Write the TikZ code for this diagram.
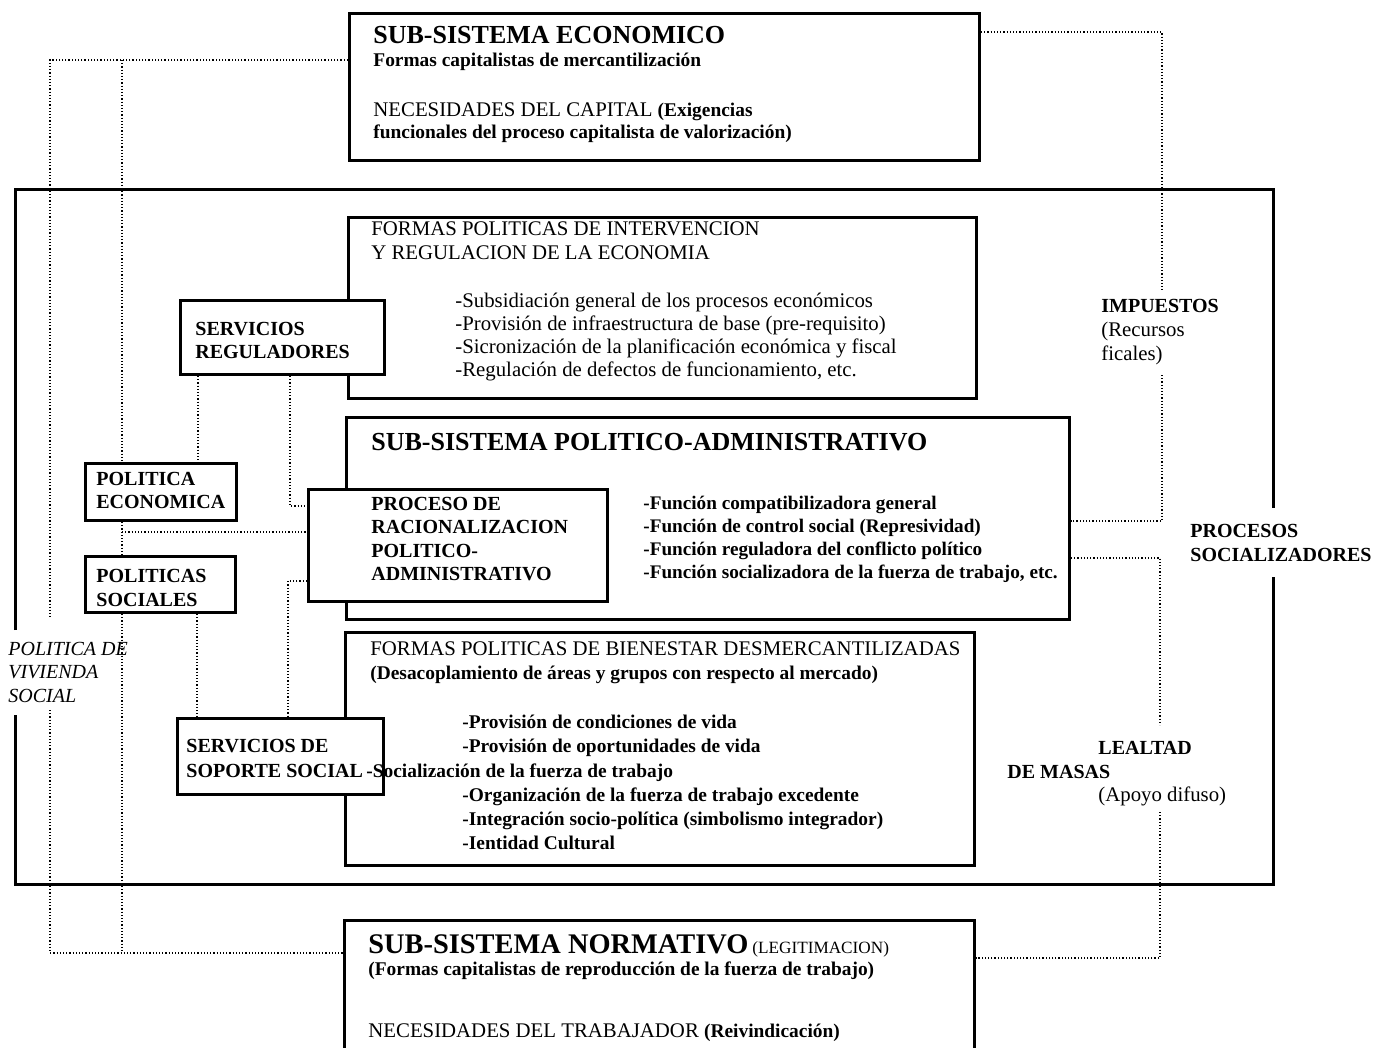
\documentclass[tikz,border=0pt]{standalone}
\usepackage{fontspec}
\setmainfont{Liberation Serif}
\tikzset{
  panel/.style={draw=black, line width=1.5pt, fill=white, inner sep=0pt, anchor=north west},
  box-size/.style 2 args={minimum width=#1*0.5pt, minimum height=#2*0.5pt},
  txt/.style={anchor=base west, inner sep=0pt, font=\fontsize{10.4}{12}\selectfont},
  txt-bold/.style={txt, font=\fontsize{9.7}{12}\selectfont\bfseries},
  txt-caps/.style={txt, font=\fontsize{10}{12}\selectfont\bfseries},
  txt-ital/.style={txt, font=\fontsize{10}{12}\selectfont\itshape},
  txt-title/.style={txt, font=\fontsize{13}{15}\selectfont\bfseries},
  link/.style={densely dotted, line width=0.6pt},
  frame-line/.style={line width=1.5pt, line join=miter}
}

\begin{document}
\begin{tikzpicture}[x=0.5pt, y=-0.5pt]
  \fill[white] (0,0) rectangle (1380,1048);
  \useasboundingbox (0,0) rectangle (1380,1048);

  % --- Outer frame (open where the side labels sit) ---
  \draw[frame-line] (15,630) -- (15,190) -- (1273,190) -- (1273,508);
  \draw[frame-line] (1273,577) -- (1273,884) -- (15,884) -- (15,715);

  % --- Main panels ---
  \node[panel, box-size={630}{147}] (eco) at (348,12) {};
  \node[panel, box-size={628}{181}] (interv) at (347,216) {};
  \node[panel, box-size={723}{202}] (polit) at (345,416) {};
  \node[panel, box-size={629}{233}] (bienestar) at (344,631) {};
  \node[panel, box-size={630}{150}] (norm) at (343,919) {};

  % --- Small boxes (drawn over the panels) ---
  \node[panel, box-size={204}{74}] (servreg) at (179,299) {};
  \node[panel, box-size={299}{112}] (proc) at (307,488) {};
  \node[panel, box-size={206}{76}] (soporte) at (176,717) {};
  \node[panel, box-size={151}{57}] (poleco) at (84,462) {};
  \node[panel, box-size={150}{56}] (polsoc) at (84,555) {};

  % --- Sub-sistema economico ---
  \node[txt-title] (eco-t) at (373,44) {SUB-SISTEMA ECONOMICO};
  \node[txt-bold] (eco-1) at (373,67) {Formas capitalistas de mercantilización};
  \node[txt] (eco-2) at (373,117) {NECESIDADES DEL CAPITAL {\fontsize{9.7}{12}\selectfont\bfseries(Exigencias}};
  \node[txt-bold] (eco-3) at (373,139) {funcionales del proceso capitalista de valorización)};

  % --- Intervencion y regulacion ---
  \node[txt] (interv-t1) at (371,235) {FORMAS POLITICAS DE INTERVENCION};
  \node[txt] (interv-t2) at (371,259) {Y REGULACION DE LA ECONOMIA};
  \foreach \bullettext [count=\i] in {
      -Subsidiación general de los procesos económicos,
      -Provisión de infraestructura de base (pre-requisito),
      -Sicronización de la planificación económica y fiscal,
      {-Regulación de defectos de funcionamiento, etc.}}
    \node[txt] (interv-\i) at (455,{307+23*(\i-1)}) {\bullettext};

  % --- Sub-sistema politico-administrativo ---
  \node[txt-title] (polit-t) at (371,450) {SUB-SISTEMA POLITICO-ADMINISTRATIVO};
  \foreach \bullettext [count=\i] in {
      -Función compatibilizadora general,
      -Función de control social (Represividad),
      -Función reguladora del conflicto político,
      {-Función socializadora de la fuerza de trabajo, etc.}}
    \node[txt-bold, font=\fontsize{9.6}{12}\selectfont\bfseries] (polit-\i) at (643,{509+23*(\i-1)}) {\bullettext};

  % --- Proceso de racionalizacion ---
  \foreach \bullettext [count=\i] in {PROCESO DE, RACIONALIZACION, POLITICO-, ADMINISTRATIVO}
    \node[txt-caps] (proc-\i) at (371,{510+23.6*(\i-1)}) {\bullettext};

  % --- Bienestar desmercantilizado ---
  \node[txt] (bien-t1) at (370,655) {FORMAS POLITICAS DE BIENESTAR DESMERCANTILIZADAS};
  \node[txt-bold] (bien-t2) at (370,679) {(Desacoplamiento de áreas y grupos con respecto al mercado)};
  \node[txt-bold] (bien-1) at (462,728) {-Provisión de condiciones de vida};
  \node[txt-bold] (bien-2) at (462,752) {-Provisión de oportunidades de vida};
  \node[txt-bold] (bien-3) at (366,777) {-Socialización de la fuerza de trabajo};
  \node[txt-bold] (bien-4) at (462,801) {-Organización de la fuerza de trabajo excedente};
  \node[txt-bold] (bien-5) at (462,825) {-Integración socio-política (simbolismo integrador)};
  \node[txt-bold] (bien-6) at (462,849) {-Ientidad Cultural};

  % --- Sub-sistema normativo ---
  \node[txt, font=\fontsize{14.2}{16}\selectfont\bfseries] (norm-t) at (368,953)
    {SUB-SISTEMA NORMATIVO\hspace{2pt}{\fontsize{8.6}{10}\selectfont\mdseries (LEGITIMACION)}};
  \node[txt-bold] (norm-1) at (368,975) {(Formas capitalistas de reproducción de la fuerza de trabajo)};
  \node[txt] (norm-2) at (368,1037) {NECESIDADES DEL TRABAJADOR {\fontsize{9.7}{12}\selectfont\bfseries(Reivindicación)}};

  % --- Small box labels ---
  \node[txt-caps] (servreg-1) at (195,335) {SERVICIOS};
  \node[txt-caps] (servreg-2) at (195,358) {REGULADORES};
  \node[txt-caps] (poleco-1) at (96,485) {POLITICA};
  \node[txt-caps] (poleco-2) at (96,508) {ECONOMICA};
  \node[txt-caps] (polsoc-1) at (96,582) {POLITICAS};
  \node[txt-caps] (polsoc-2) at (96,606) {SOCIALES};
  \node[txt-caps] (soporte-1) at (186,752) {SERVICIOS DE};
  \node[txt-caps] (soporte-2) at (186,777) {SOPORTE SOCIAL};

  % --- Side labels ---
  \node[txt-caps] (imp-1) at (1101,312) {IMPUESTOS};
  \node[txt] (imp-2) at (1101,336) {(Recursos};
  \node[txt] (imp-3) at (1101,360) {ficales)};
  \node[txt-caps] (socz-1) at (1190,537) {PROCESOS};
  \node[txt-caps] (socz-2) at (1190,561) {SOCIALIZADORES};
  \node[txt-caps] (leal-1) at (1098,754) {LEALTAD};
  \node[txt-caps] (leal-2) at (1007,778) {DE MASAS};
  \node[txt] (leal-3) at (1098,801) {(Apoyo difuso)};
  \node[txt-ital] (viv-1) at (8,655) {POLITICA DE};
  \node[txt-ital] (viv-2) at (8,678) {VIVIENDA};
  \node[txt-ital] (viv-3) at (8,702) {SOCIAL};

  % --- Left connectors ---
  \coordinate (l-top) at (50,60);
  \coordinate (l-gap1) at (50,617);
  \coordinate (l-gap2) at (50,710);
  \coordinate (l-bot) at (50,953);
  \draw[link] (eco.west |- l-top) -- (l-top) -- (l-gap1);
  \draw[link] (l-gap2) -- (l-bot) -- (norm.west |- l-bot);

  \coordinate (m-top) at (122,60);
  \coordinate (m-bot) at (122,953);
  \coordinate (m-proc) at (122,532);
  \draw[link] (m-top) -- (m-top |- poleco.north);
  \draw[link] (m-top |- poleco.south) -- (m-top |- polsoc.north);
  \draw[link] (m-top |- polsoc.south) -- (m-bot);
  \draw[link] (m-proc) -- (proc.west |- m-proc);

  \coordinate (x-eco) at (198,0);
  \coordinate (x-soc) at (197,0);
  \coordinate (reg-knee) at (290,506);
  \coordinate (sop-knee) at (288,581);
  \draw[link] (servreg.south -| x-eco) -- (poleco.north -| x-eco);
  \draw[link] (servreg.south -| reg-knee) -- (reg-knee) -- (proc.west |- reg-knee);
  \draw[link] (polsoc.south -| x-soc) -- (soporte.north -| x-soc);
  \draw[link] (proc.west |- sop-knee) -- (sop-knee) -- (soporte.north -| sop-knee);

  % --- Right connectors ---
  \coordinate (r-top) at (1162,32);
  \coordinate (r-gap1) at (1162,290);
  \coordinate (r-gap2) at (1162,375);
  \coordinate (r-mid1) at (1162,521);
  \draw[link] (eco.east |- r-top) -- (r-top) -- (r-gap1);
  \draw[link] (r-gap2) -- (r-mid1) -- (polit.east |- r-mid1);

  \coordinate (r-mid2) at (1160,558);
  \coordinate (r-gap3) at (1160,725);
  \coordinate (r-gap4) at (1160,812);
  \coordinate (r-bot) at (1160,958);
  \draw[link] (polit.east |- r-mid2) -- (r-mid2) -- (r-gap3);
  \draw[link] (r-gap4) -- (r-bot) -- (norm.east |- r-bot);
\end{tikzpicture}
\end{document}
